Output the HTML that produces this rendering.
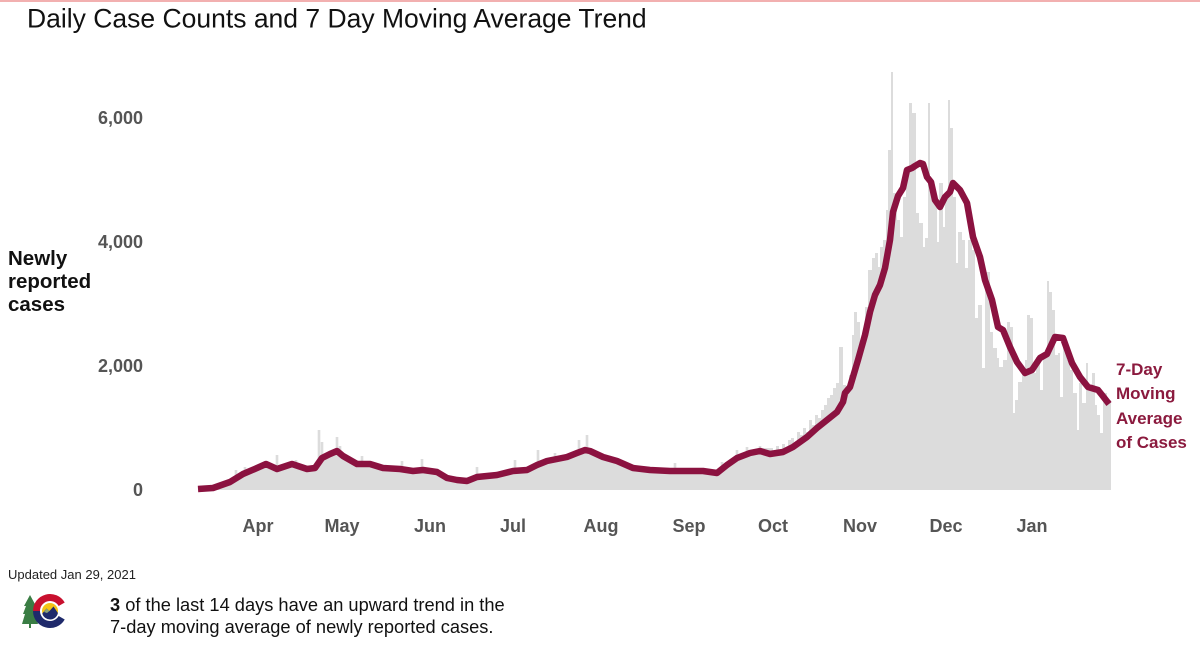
<!DOCTYPE html>
<html>
<head>
<meta charset="utf-8">
<style>
  html, body { margin:0; padding:0; background:#fff; }
  body { width:1200px; height:648px; overflow:hidden; position:relative; }
  svg { position:absolute; left:0; top:0; }
  text { font-family:"Liberation Sans", Arial, sans-serif; }
</style>
</head>
<body>
<svg width="1200" height="648" viewBox="0 0 1200 648" xmlns="http://www.w3.org/2000/svg">
  <rect x="0" y="0" width="1200" height="648" fill="#ffffff"/>
  <rect x="0" y="0" width="1200" height="2" fill="#f2b0b0"/>

  <!-- Title -->
  <text x="27" y="27.5" font-size="26.5" fill="#111">Daily Case Counts and 7 Day Moving Average Trend</text>

  <!-- Y axis labels -->
  <g font-size="18" font-weight="bold" fill="#555" text-anchor="end">
    <text x="143" y="124">6,000</text>
    <text x="143" y="248">4,000</text>
    <text x="143" y="372">2,000</text>
    <text x="143" y="496">0</text>
  </g>

  <!-- Y axis title -->
  <g font-size="20.5" font-weight="bold" fill="#111">
    <text x="8" y="265">Newly</text>
    <text x="8" y="288">reported</text>
    <text x="8" y="311">cases</text>
  </g>

  <!-- Bars (gray area) -->
  <path fill="#dcdcdc" d="M200,490 L200,489 L213,488 L230,481 L243,472 L257,466 L266,462 L277,466 L292,462 L307,466 L315,465 L322,455 L330,451 L337,448 L343,453 L357,461 L370,461 L383,465 L400,466 L413,468 L423,467 L437,469 L447,475 L457,477 L467,478 L477,474 L497,472 L513,468 L527,467 L537,462 L547,458 L557,456 L567,454 L577,450 L585,447 L590,448 L603,454 L617,458 L633,465 L650,467 L670,468 L690,468 L703,468 L717,470 L727,462 L737,455 L750,450 L760,448 L770,448
  V448 H773 V452 H776 V446 H779 V450 H782 V444 H785 V448 H788 V440 H791 V438 H794 V444 H797 V432 H800 V435 H803 V428 H806 V432 H809 V420 H812 V425 H815 V415 H818 V418 H821 V410 H824 V405 H827 V398 H830 V395 H833 V388 H836 V383 H839 V347 H843 V385 H846 V387 H849 V375 H852 V335 H854 V312 H857 V322 H860 V350 H863 V330 H865 V307 H868 V270 H872 V258 H875 V253 H878 V267 H880 V247 H883 V240 H886 V210 H888 V150 H891 V72 H893 V193 H897 V220 H900 V237 H903 V197 H906 V170 H909 V103 H912 V113 H916 V213 H919 V223 H923 V247 H925 V238 H928 V103 H930 V180 H933 V197 H937 V242 H939 V183 H943 V227 H945 V193 H948 V100 H950 V128 H953 V197 H956 V263 H958 V232 H962 V240 H965 V268 H968 V240 H972 V250 H975 V318 H978 V305 H982 V368 H985 V272 H990 V332 H993 V348 H997 V358 H999 V367 H1003 V360 H1007 V322 H1010 V327 H1013 V413 H1015 V400 H1018 V382 H1022 V373 H1025 V360 H1027 V315 H1030 V318 H1033 V373 H1036 V357 H1040 V390 H1043 V353 H1047 V281 H1049 V292 H1052 V310 H1055 V355 H1058 V353 H1060 V397 H1063 V340 H1067 V360 H1070 V370 H1073 V393 H1077 V430 H1079 V383 H1082 V403 H1086 V363 H1088 V387 H1092 V373 H1095 V405 H1097 V415 H1100 V433 H1103 V393 H1107 V400 H1111 V490 Z"/>

  <!-- Spikes in low region -->
  <path stroke="#dcdcdc" stroke-width="2.6" fill="none" d="M236,490V470 M245,490V467 M262,490V463 M277,490V455 M296,490V460 M319,490V430 M322,490V442 M337,490V437 M340,490V446 M362,490V456 M402,490V461 M422,490V459 M477,490V467 M515,490V460 M538,490V450 M555,490V453 M562,490V455 M570,490V453 M579,490V440 M587,490V435 M605,490V455 M620,490V461 M675,490V463 M722,490V462 M737,490V450 M747,490V447 M760,490V446"/>

  <!-- 7-day moving average -->
  <polyline fill="none" stroke="#8b1240" stroke-width="6.5" stroke-linejoin="round" stroke-linecap="butt"
    points="198,489 213,488 230,482 243,474 257,468 266,464 277,469 292,464 307,469 315,468 322,458 330,454 337,451 343,456 357,464 370,464 383,468 400,469 413,471 423,470 437,472 447,478 457,480 467,481 477,477 497,475 513,471 527,470 537,465 547,461 557,459 567,457 577,453 585,450 590,451 603,457 617,461 633,468 650,470 670,471 690,471 703,471 717,473 727,465 737,458 750,453 760,451 770,454 783,452 793,447 807,437 817,428 827,420 837,412 843,402 845,393 850,387 858,360 865,335 870,312 875,295 880,285 885,268 890,240 893,212 898,196 903,188 907,170 912,168 915,166 920,163 923,164 927,177 931,182 935,200 940,207 945,197 950,192 953,183 960,190 967,203 973,237 980,257 985,280 992,300 998,327 1003,330 1010,347 1017,362 1025,373 1032,370 1040,358 1047,354 1055,337 1063,338 1072,363 1080,377 1088,387 1098,390 1102,395 1109,404"/>

  <!-- X axis labels -->
  <g font-size="18" font-weight="bold" fill="#555" text-anchor="middle">
    <text x="258" y="532">Apr</text>
    <text x="342" y="532">May</text>
    <text x="430" y="532">Jun</text>
    <text x="513" y="532">Jul</text>
    <text x="601" y="532">Aug</text>
    <text x="689" y="532">Sep</text>
    <text x="773" y="532">Oct</text>
    <text x="860" y="532">Nov</text>
    <text x="946" y="532">Dec</text>
    <text x="1032" y="532">Jan</text>
  </g>

  <!-- Right label -->
  <g font-size="17" font-weight="bold" fill="#8b1a3e">
    <text x="1116" y="375">7-Day</text>
    <text x="1116" y="399">Moving</text>
    <text x="1116" y="424">Average</text>
    <text x="1116" y="448">of Cases</text>
  </g>

  <!-- Footer -->
  <text x="8" y="579" font-size="13" fill="#222">Updated Jan 29, 2021</text>
  <text x="110" y="611" font-size="18.25" fill="#111"><tspan font-weight="bold">3</tspan> of the last 14 days have an upward trend in the</text>
  <text x="110" y="633" font-size="18.25" fill="#111">7-day moving average of newly reported cases.</text>

  <!-- Logo -->
  <g>
    <polygon fill="#3a7d44" points="30,595 36,606 34,606 37,614 35,614 38,624 31,624 31,628 29,628 29,624 22,624 25,614 23,614 26,606 24,606"/>
    <path d="M61.7,604.25 A13.5,13.5 0 0 0 36.5,611" fill="none" stroke="#c8102e" stroke-width="7"/>
    <path d="M36.5,611 A13.5,13.5 0 0 0 61.7,617.75" fill="none" stroke="#1f2a6b" stroke-width="7"/>
    <circle cx="50" cy="611" r="8" fill="#f3c316"/>
    <path d="M42.3,613.5 L46.5,608.5 L49.5,611 L53.5,606.5 L57.9,613 A8,8 0 0 1 42.3,613.5 Z" fill="#1f2a6b"/>
    <path d="M44,612 L46.5,608.5 L49.5,611 L47,613 Z" fill="#8ca37a"/>
  </g>
</svg>
</body>
</html>
